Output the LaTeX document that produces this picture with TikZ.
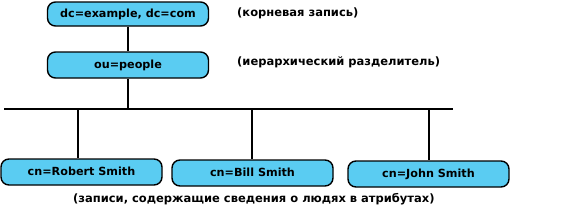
\documentclass[tikz,border=0pt]{standalone}
\usepackage{fontspec}
\setmainfont{DejaVu Sans}
\definecolor{boxblue}{RGB}{90,204,242}
\begin{document}
\begin{tikzpicture}[x=1pt,y=-1pt,
  entry/.style={draw=black, line width=1.4pt, fill=boxblue, rounded corners=8pt,
    minimum width=161pt, inner sep=0pt, font=\fontsize{11.2}{13}\selectfont\bfseries},
  note/.style={font=\fontsize{11.5}{13}\selectfont\bfseries, inner sep=0pt, anchor=west},
  link/.style={line width=1.3pt}]
\useasboundingbox (0,0) rectangle (577,212);
\node[entry, minimum height=24pt] (root) at (128,14) {\raisebox{1pt}{dc=example, dc=com}};
\node[entry, minimum height=26pt] (ou) at (128,65) {\raisebox{1.5pt}{ou=people}};
\node[entry, minimum height=26pt] (robert) at (81.5,172) {\raisebox{1.5pt}{cn=Robert Smith}};
\node[entry, minimum height=26pt] (bill) at (252.5,173) {\raisebox{1.5pt}{cn=Bill Smith}};
\node[entry, minimum height=26pt] (john) at (428.5,174) {\raisebox{1.5pt}{cn=John Smith}};
\coordinate (busL) at (4,109);
\coordinate (busR) at (453,109);
\coordinate (busO) at (128,109);
\coordinate (j1) at (78,109);
\coordinate (j2) at (252,109);
\coordinate (j3) at (429,109);
\draw[link] (root.south) -- (ou.north);
\draw[link] (ou.south) -- (busO);
\draw[link] (busL) -- (busR);
\draw[link] (j1) -- (j1 |- robert.north);
\draw[link] (j2) -- (j2 |- bill.north);
\draw[link] (j3) -- (j3 |- john.north);
\node[note] (n1) at (237,13) {(корневая запись)};
\node[note] (n2) at (237,62) {(иерархический разделитель)};
\node[note] (n3) at (73,199) {(записи, содержащие сведения о людях в атрибутах)};
\end{tikzpicture}
\end{document}
